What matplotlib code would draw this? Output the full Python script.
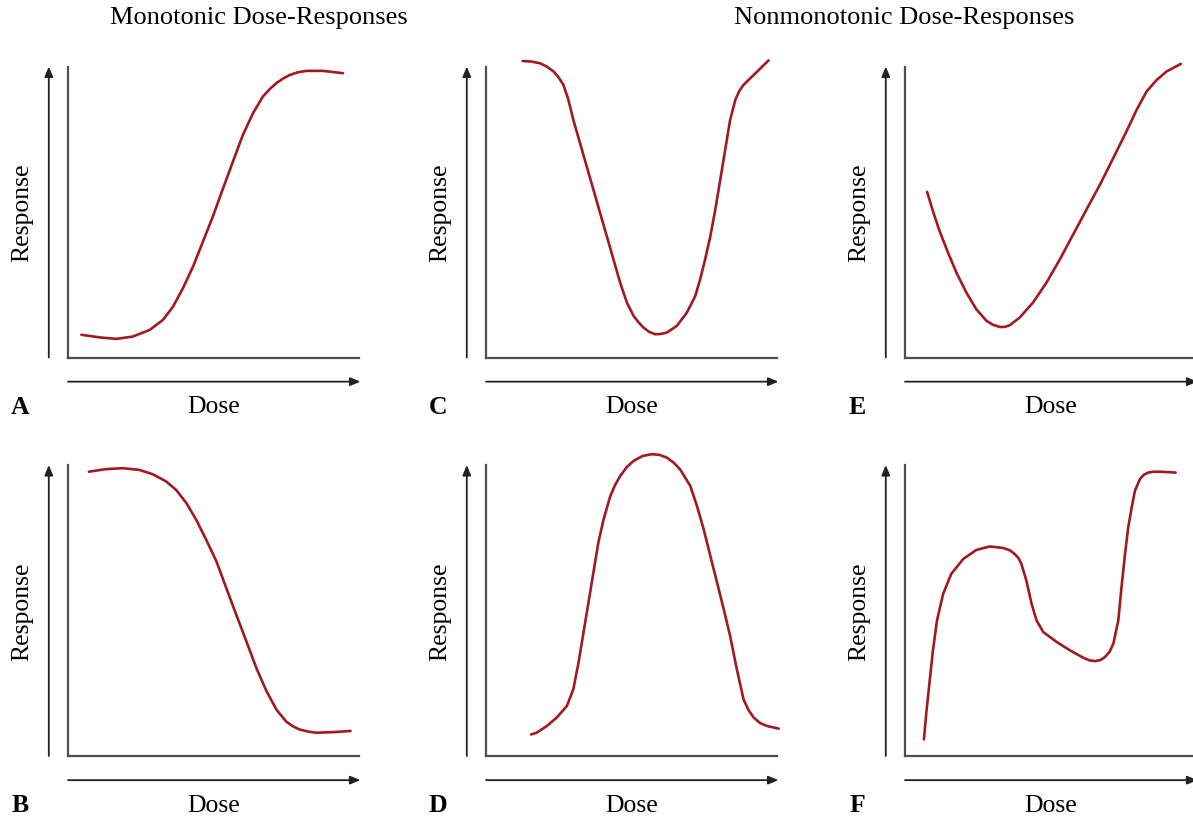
import matplotlib
matplotlib.use('Agg')
import matplotlib.pyplot as plt

plt.rcParams['font.family'] = 'Liberation Serif'

W, H = 1193, 820
curve_color = '#a11a20'
axis_color = '#505050'

# curves, dose and response on a 0-10 scale
dose_a = [0.46, 1.09, 1.66, 2.23, 2.81, 3.26, 3.61, 3.95, 4.30, 4.64, 4.98, 5.33, 5.67,
          6.01, 6.36, 6.70, 6.93, 7.16, 7.40, 7.62, 7.90, 8.19, 8.76, 9.45]
resp_a = [0.78, 0.69, 0.64, 0.72, 0.95, 1.29, 1.75, 2.38, 3.13, 3.99, 4.85, 5.82, 6.74,
          7.65, 8.40, 8.97, 9.22, 9.43, 9.59, 9.71, 9.80, 9.85, 9.85, 9.77]

dose_b = [0.72, 1.32, 1.89, 2.46, 2.92, 3.38, 3.72, 4.07, 4.41, 4.75, 5.10, 5.44, 5.78,
          6.13, 6.47, 6.82, 7.16, 7.50, 7.73, 7.96, 8.25, 8.53, 9.11, 9.71]
resp_b = [9.77, 9.86, 9.89, 9.83, 9.68, 9.43, 9.14, 8.69, 8.11, 7.43, 6.69, 5.77, 4.86,
          3.94, 3.03, 2.23, 1.60, 1.18, 1.02, 0.91, 0.84, 0.80, 0.82, 0.86]

dose_c = [1.26, 1.56, 1.86, 2.10, 2.32, 2.50, 2.66, 2.83, 3.00, 3.23, 3.46, 3.69, 3.92,
          4.15, 4.38, 4.61, 4.84, 5.07, 5.25, 5.41, 5.61, 5.81, 6.02, 6.22, 6.56, 6.90,
          7.19, 7.36, 7.53, 7.71, 7.88, 8.05, 8.22, 8.39, 8.57, 8.70, 8.85, 9.20, 9.71]
resp_c = [10.19, 10.17, 10.11, 9.99, 9.83, 9.62, 9.37, 8.86, 8.17, 7.37, 6.57, 5.77, 4.97,
          4.17, 3.37, 2.57, 1.89, 1.43, 1.20, 1.03, 0.88, 0.80, 0.81, 0.86, 1.09, 1.54,
          2.11, 2.69, 3.37, 4.17, 5.09, 6.11, 7.14, 8.17, 8.86, 9.15, 9.37, 9.71, 10.21]

dose_d = [1.55, 1.74, 2.09, 2.43, 2.78, 3.00, 3.18, 3.35, 3.52, 3.69, 3.86, 4.04, 4.27,
          4.44, 4.61, 4.84, 5.07, 5.38, 5.70, 5.96, 6.22, 6.45, 6.67, 7.02, 7.25, 7.48,
          7.71, 7.94, 8.17, 8.39, 8.62, 8.85, 9.02, 9.20, 9.42, 9.66, 10.06]
resp_d = [0.74, 0.80, 1.03, 1.32, 1.72, 2.29, 3.21, 4.24, 5.27, 6.30, 7.33, 8.13, 8.93,
          9.32, 9.62, 9.93, 10.14, 10.31, 10.37, 10.35, 10.25, 10.08, 9.85, 9.28, 8.59,
          7.79, 6.87, 5.96, 5.04, 4.12, 2.98, 1.95, 1.58, 1.32, 1.13, 1.03, 0.94]

dose_e = [0.76, 0.96, 1.19, 1.48, 1.77, 2.11, 2.45, 2.80, 3.03, 3.26, 3.43, 3.60, 3.94,
          4.40, 4.86, 5.32, 5.78, 6.24, 6.70, 7.16, 7.61, 7.96, 8.30, 8.65, 8.99, 9.48]
resp_e = [5.69, 5.03, 4.34, 3.60, 2.91, 2.23, 1.66, 1.26, 1.12, 1.05, 1.05, 1.11, 1.37,
          1.89, 2.57, 3.37, 4.23, 5.09, 5.94, 6.86, 7.77, 8.51, 9.14, 9.54, 9.83, 10.09]

dose_f = [0.65, 0.73, 0.85, 0.96, 1.10, 1.31, 1.59, 2.00, 2.45, 2.91, 3.37, 3.60, 3.77,
          3.90, 4.00, 4.17, 4.35, 4.52, 4.75, 5.21, 5.67, 6.12, 6.33, 6.53, 6.72, 6.87,
          7.03, 7.16, 7.33, 7.44, 7.56, 7.67, 7.79, 7.90, 8.07, 8.20, 8.36, 8.55, 8.76,
          9.30]
resp_f = [0.57, 1.46, 2.60, 3.63, 4.66, 5.57, 6.26, 6.77, 7.08, 7.20, 7.15, 7.07, 6.94,
          6.80, 6.60, 6.03, 5.23, 4.66, 4.26, 3.92, 3.63, 3.38, 3.29, 3.26, 3.30, 3.40,
          3.58, 3.86, 4.66, 5.80, 6.94, 7.85, 8.54, 9.11, 9.51, 9.66, 9.74, 9.77, 9.77,
          9.74]

panel_letters = ['A', 'B', 'C', 'D', 'E', 'F']
panel_data = [(dose_a, resp_a), (dose_b, resp_b), (dose_c, resp_c),
              (dose_d, resp_d), (dose_e, resp_e), (dose_f, resp_f)]
col_left = [68, 486, 905]
row_top = [67.5, 466]
size = 291

fig = plt.figure(figsize=(W / 100, H / 100), dpi=100)

for i, letter in enumerate(panel_letters):
    col, row = i // 2, i % 2
    left, top = col_left[col], row_top[row]
    ax = fig.add_axes([left / W, 1 - (top + size) / H, size / W, size / H])
    ax.set_xlim(0, 10)
    ax.set_ylim(0, 10)
    for s in ['top', 'right']:
        ax.spines[s].set_visible(False)
    for s in ['left', 'bottom']:
        ax.spines[s].set_color(axis_color)
        ax.spines[s].set_linewidth(1.6)
    ax.set_xticks([])
    ax.set_yticks([])
    ax.patch.set_alpha(0)

    x, y = panel_data[i]
    ax.plot(x, y, color=curve_color, lw=1.9, clip_on=False, solid_capstyle='round',
            solid_joinstyle='round')

    arrow = dict(arrowstyle='-|>,head_length=0.6,head_width=0.25', color='#222222', lw=1.3,
                 shrinkA=0, shrinkB=0)
    ax.annotate('', xy=(-0.066, 1.0), xytext=(-0.066, 0.0), xycoords='axes fraction',
                textcoords='axes fraction', arrowprops=arrow, annotation_clip=False)
    ax.annotate('', xy=(1.005, -0.083), xytext=(0.0, -0.083), xycoords='axes fraction',
                textcoords='axes fraction', arrowprops=arrow, annotation_clip=False)

    ax.text(-0.158, 0.5, 'Response', rotation=90, ha='center', va='center',
            fontsize=18.5, transform=ax.transAxes)
    ax.text(0.5, -0.168, 'Dose', ha='center', va='center', fontsize=18.5,
            transform=ax.transAxes)
    ax.text(-0.165, -0.168, letter, ha='center', va='center', fontsize=18.5,
            fontweight='bold', transform=ax.transAxes)

fig.text(259 / W, 1 - 18 / H, 'Monotonic Dose-Responses', ha='center', va='center',
         fontsize=19)
fig.text(904 / W, 1 - 18 / H, 'Nonmonotonic Dose-Responses', ha='center', va='center',
         fontsize=19)

plt.savefig('out.png', dpi=100)
